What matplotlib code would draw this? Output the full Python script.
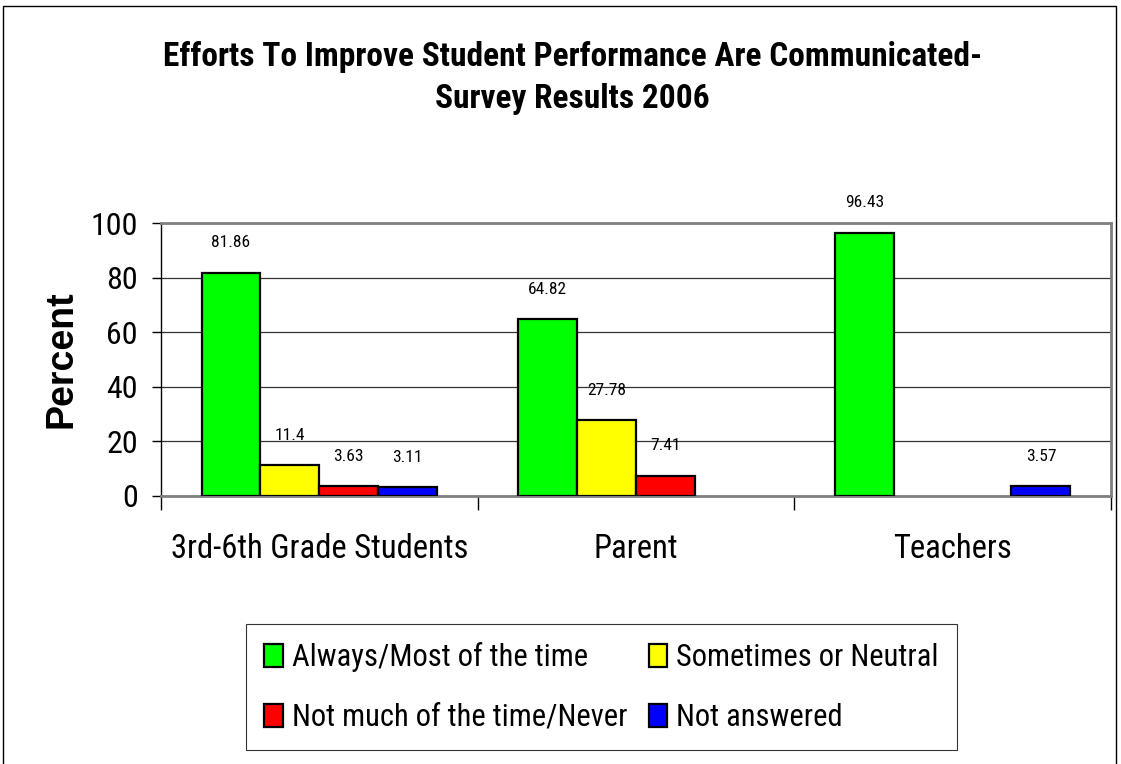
import numpy as np
import matplotlib
matplotlib.use("Agg")
import matplotlib.pyplot as plt
from matplotlib.patches import Rectangle

# data
groups = ["3rd-6th Grade Students", "Parent", "Teachers"]
series = ["Always/Most of the time", "Sometimes or Neutral",
          "Not much of the time/Never", "Not answered"]
always = [81.86, 64.82, 96.43]
sometimes = [11.4, 27.78, 0]
not_much = [3.63, 7.41, 0]
not_answered = [3.11, 0, 3.57]
colors = ["#00FF00", "#FFFF00", "#FF0000", "#0000FF"]

plt.rcParams["font.family"] = ["Roboto Condensed", "Liberation Sans", "DejaVu Sans"]

fig = plt.figure(figsize=(11.21, 7.64), dpi=100)
ax = fig.add_axes([0.1436, 0.3508, 0.8474, 0.3573])

x = np.arange(len(groups))
w = 0.186
values = [always, sometimes, not_much, not_answered]
handles = []
for i, (vals, c, name) in enumerate(zip(values, colors, series)):
    pos = x + (i - 1.5) * w
    keep = [j for j, v in enumerate(vals) if v > 0]
    bars = ax.bar(pos[keep], [vals[j] for j in keep], width=w, color=c,
                  edgecolor="black", linewidth=1.6, zorder=3, label=name)
    handles.append(bars)
    for j in keep:
        ax.annotate(f"{vals[j]:g}", (pos[j], vals[j]), xytext=(0, 21.5),
                    textcoords="offset points", ha="center", va="center",
                    fontsize=12.5)

ax.set_xlim(-0.5, 2.5)
ax.set_ylim(0, 100)
ax.set_yticks([0, 20, 40, 60, 80, 100])
ax.yaxis.grid(True, color="#333333", linewidth=0.9, zorder=0)
ax.tick_params(axis="y", labelsize=23, length=6.5, width=1, pad=10)

ax.set_xticks([-0.5, 0.5, 1.5, 2.5])
ax.set_xticklabels([])
ax.set_xticks(x, minor=True)
ax.set_xticklabels(groups, minor=True)
ax.tick_params(axis="x", which="major", length=10, width=1)
ax.tick_params(axis="x", which="minor", length=0, labelsize=23.5, pad=27)

for s in ["top", "right", "bottom"]:
    ax.spines[s].set_color("#808080")
    ax.spines[s].set_linewidth(2)
ax.spines["left"].set_color("black")
ax.spines["left"].set_linewidth(1)

ax.set_ylabel("Percent", fontsize=27, fontweight="bold",
              family=["Liberation Sans", "DejaVu Sans"], labelpad=8)

fig.text(0.511, 0.898, "Efforts To Improve Student Performance Are Communicated-\nSurvey Results 2006",
         ha="center", va="center", fontsize=24, fontweight="bold", linespacing=1.42)

order = [0, 2, 1, 3]
leg = fig.legend([handles[k] for k in order], [series[k] for k in order],
                 ncol=2, loc="upper left", bbox_to_anchor=(0.2194, 0.1832),
                 fontsize=22, frameon=True, fancybox=False, edgecolor="black",
                 handlelength=0.6, handleheight=0.8, handletextpad=0.3,
                 columnspacing=0.7, labelspacing=1.0, borderpad=0.6,
                 borderaxespad=0)
leg.get_frame().set_linewidth(0.8)

fig.patches.append(Rectangle((3 / 1121, -0.01), 1113 / 1121, 1 - 6 / 764 + 0.01,
                             transform=fig.transFigure, fill=False,
                             edgecolor="black", linewidth=1))

fig.savefig("out.png", dpi=100)
